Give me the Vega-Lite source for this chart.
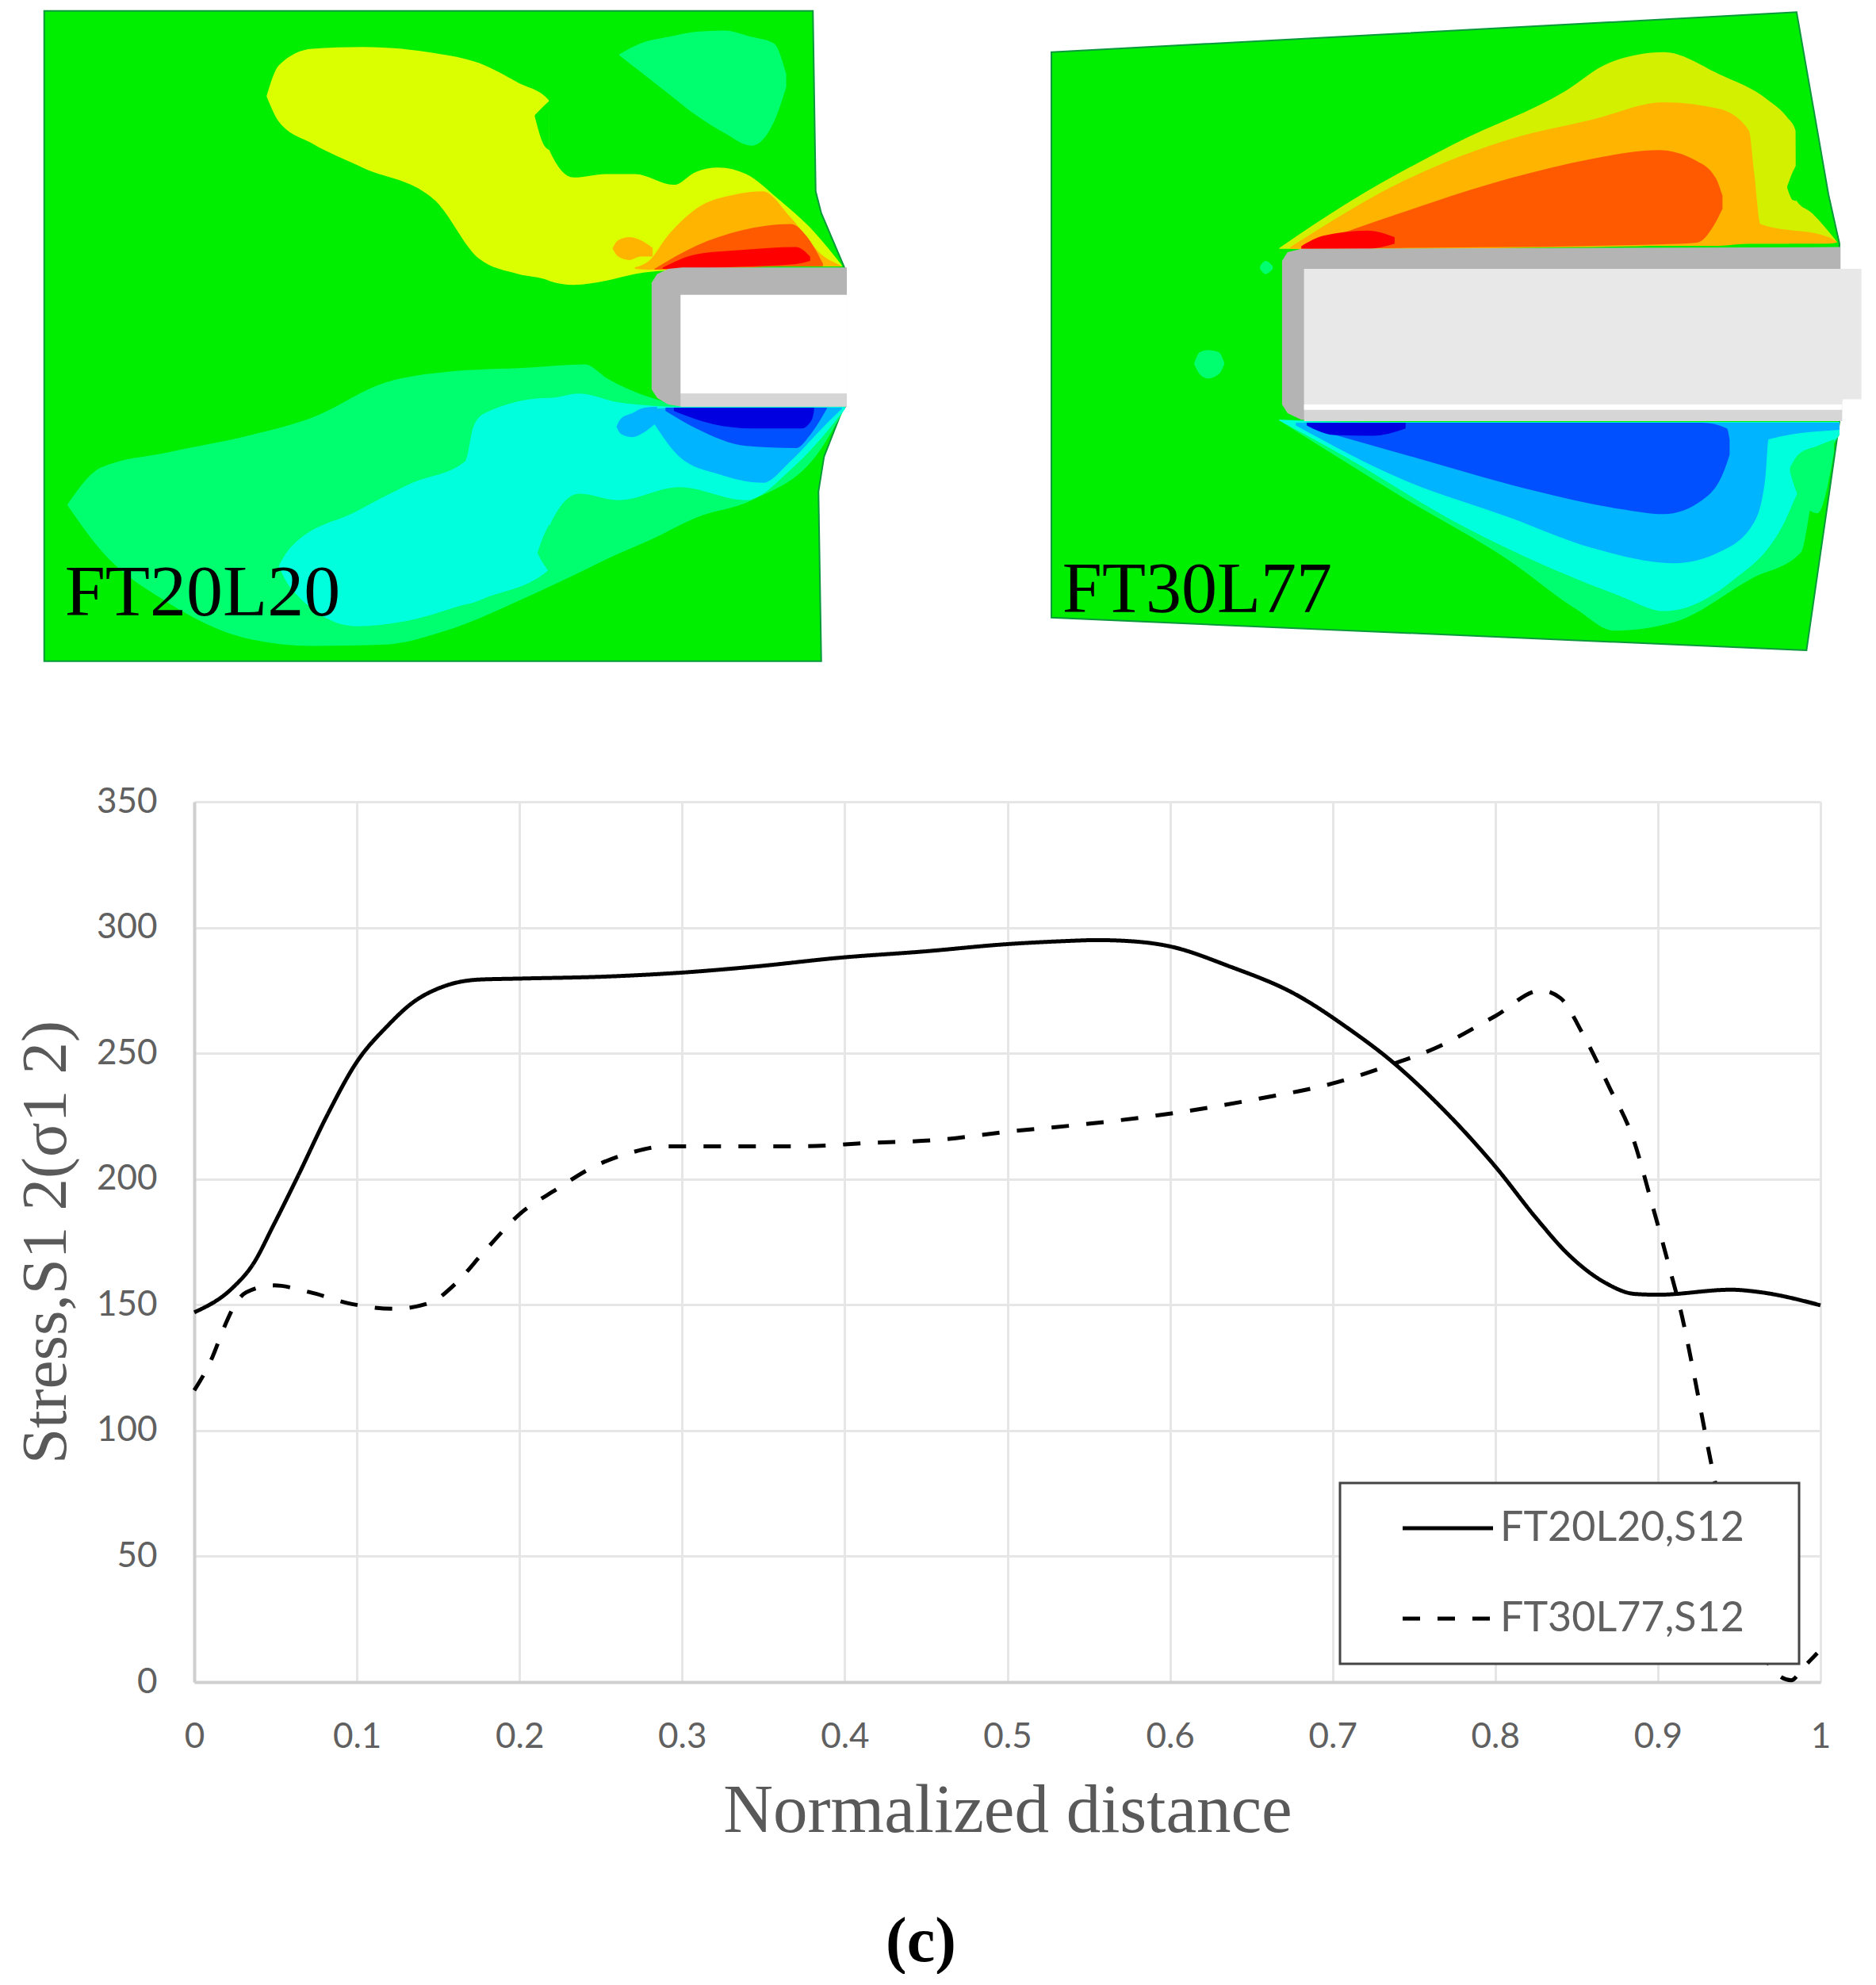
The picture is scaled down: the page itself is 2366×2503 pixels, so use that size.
{"$schema":"https://vega.github.io/schema/vega-lite/v6.json","padding":{"left":17,"top":0,"right":0,"bottom":0},"background":"white","spacing":129,"resolve":{"legend":{"strokeDash":"independent"}},"config":{"view":{"stroke":null},"legend":{"strokeWidth":3},"axis":{"ticks":false,"labelFlush":false,"gridColor":"#e6e6e6","gridWidth":3,"domainColor":"#cfcfcf","domainWidth":4,"labelColor":"#606060","labelFont":"Lato","labelFontSize":44,"titleColor":"#595959","titleFont":"Liberation Serif","titleFontWeight":"normal"}},
"datasets":{
"leftBase":[{"v":25,"u":78,"u2":1460},{"v":440,"u":78,"u2":1465},{"v":490,"u":78,"u2":1475},{"v":610,"u":78,"u2":1515},{"v":620,"u":78,"u2":1518},{"v":935,"u":78,"u2":1518},{"v":945,"u":78,"u2":1512},{"v":1050,"u":78,"u2":1480},{"v":1130,"u":78,"u2":1470},{"v":1520,"u":78,"u2":1475}],
"leftBands":[
{"region":"a","level":"mint","u":1112,"v":125,"w":127},{"region":"a","level":"mint","u":1150,"v":100,"w":165},{"region":"a","level":"mint","u":1200,"v":85,"w":215},{"region":"a","level":"mint","u":1250,"v":73,"w":265},{"region":"a","level":"mint","u":1300,"v":70,"w":305},{"region":"a","level":"mint","u":1350,"v":85,"w":335},{"region":"a","level":"mint","u":1390,"v":100,"w":280},{"region":"a","level":"mint","u":1412,"v":170,"w":200},
{"region":"b","level":"pos1","u":478,"v":220,"w":222},{"region":"b","level":"pos1","u":500,"v":150,"w":280},{"region":"b","level":"pos1","u":560,"v":112,"w":330},{"region":"b","level":"pos1","u":650,"v":108,"w":385},{"region":"b","level":"pos1","u":780,"v":122,"w":460},{"region":"b","level":"pos1","u":860,"v":145,"w":595},{"region":"b","level":"pos1","u":930,"v":190,"w":630},{"region":"b","level":"pos1","u":985,"v":230,"w":645},{"region":"b","level":"pos1","u":986,"v":345,"w":646},{"region":"b","level":"pos1","u":1030,"v":408,"w":655},{"region":"b","level":"pos1","u":1090,"v":400,"w":645},{"region":"b","level":"pos1","u":1140,"v":400,"w":630},{"region":"b","level":"pos1","u":1210,"v":425,"w":620},{"region":"b","level":"pos1","u":1250,"v":395,"w":615},{"region":"b","level":"pos1","u":1290,"v":385,"w":612},{"region":"b","level":"pos1","u":1340,"v":400,"w":612},{"region":"b","level":"pos1","u":1400,"v":460,"w":612},{"region":"b","level":"pos1","u":1460,"v":530,"w":612},{"region":"b","level":"pos1","u":1512,"v":610,"w":612},
{"region":"c","level":"neutral","u":960,"v":265,"w":268},{"region":"c","level":"neutral","u":975,"v":245,"w":330},{"region":"c","level":"neutral","u":986,"v":232,"w":345},
{"region":"d","level":"pos2","u":1100,"v":570,"w":572},{"region":"d","level":"pos2","u":1110,"v":552,"w":590},{"region":"d","level":"pos2","u":1130,"v":545,"w":598},{"region":"d","level":"pos2","u":1150,"v":552,"w":590},{"region":"d","level":"pos2","u":1172,"v":570,"w":590},
{"region":"e","level":"pos2","u":1140,"v":615,"w":618},{"region":"e","level":"pos2","u":1165,"v":600,"w":620},{"region":"e","level":"pos2","u":1200,"v":540,"w":620},{"region":"e","level":"pos2","u":1250,"v":480,"w":618},{"region":"e","level":"pos2","u":1320,"v":447,"w":615},{"region":"e","level":"pos2","u":1370,"v":440,"w":612},{"region":"e","level":"pos2","u":1420,"v":500,"w":612},{"region":"e","level":"pos2","u":1480,"v":590,"w":612},{"region":"e","level":"pos2","u":1510,"v":610,"w":612},
{"region":"f","level":"pos3","u":1175,"v":618,"w":620},{"region":"f","level":"pos3","u":1250,"v":565,"w":618},{"region":"f","level":"pos3","u":1330,"v":530,"w":615},{"region":"f","level":"pos3","u":1420,"v":515,"w":612},{"region":"f","level":"pos3","u":1450,"v":545,"w":612},{"region":"f","level":"pos3","u":1478,"v":606,"w":612},
{"region":"g","level":"pos4","u":1190,"v":615,"w":618},{"region":"g","level":"pos4","u":1250,"v":585,"w":617},{"region":"g","level":"pos4","u":1330,"v":575,"w":613},{"region":"g","level":"pos4","u":1430,"v":568,"w":607},{"region":"g","level":"pos4","u":1455,"v":590,"w":600},
{"region":"h","level":"mint","u":120,"v":1160,"w":1162},{"region":"h","level":"mint","u":180,"v":1075,"w":1265},{"region":"h","level":"mint","u":300,"v":1040,"w":1385},{"region":"h","level":"mint","u":450,"v":1000,"w":1470},{"region":"h","level":"mint","u":560,"v":960,"w":1485},{"region":"h","level":"mint","u":690,"v":880,"w":1482},{"region":"h","level":"mint","u":800,"v":855,"w":1450},{"region":"h","level":"mint","u":950,"v":845,"w":1370},{"region":"h","level":"mint","u":1050,"v":838,"w":1310},{"region":"h","level":"mint","u":1090,"v":870,"w":1285},{"region":"h","level":"mint","u":1170,"v":915,"w":1240},{"region":"h","level":"mint","u":1250,"v":935,"w":1190},{"region":"h","level":"mint","u":1350,"v":935,"w":1150},{"region":"h","level":"mint","u":1470,"v":935,"w":1040},{"region":"h","level":"mint","u":1518,"v":935,"w":937},
{"region":"i","level":"cyan","u":500,"v":1300,"w":1302},{"region":"i","level":"cyan","u":520,"v":1260,"w":1350},{"region":"i","level":"cyan","u":640,"v":1175,"w":1440},{"region":"i","level":"cyan","u":740,"v":1110,"w":1425},{"region":"i","level":"cyan","u":835,"v":1060,"w":1390},{"region":"i","level":"cyan","u":850,"v":980,"w":1385},{"region":"i","level":"cyan","u":870,"v":950,"w":1375},{"region":"i","level":"cyan","u":985,"v":915,"w":1310},{"region":"i","level":"cyan","u":986,"v":915,"w":1210},{"region":"i","level":"cyan","u":1040,"v":905,"w":1135},{"region":"i","level":"cyan","u":1110,"v":925,"w":1150},{"region":"i","level":"cyan","u":1220,"v":935,"w":1120},{"region":"i","level":"cyan","u":1340,"v":935,"w":1150},{"region":"i","level":"cyan","u":1420,"v":935,"w":1080},{"region":"i","level":"cyan","u":1480,"v":935,"w":1000},{"region":"i","level":"cyan","u":1518,"v":935,"w":940},
{"region":"j","level":"mint","u":965,"v":1270,"w":1272},{"region":"j","level":"mint","u":975,"v":1235,"w":1295},{"region":"j","level":"mint","u":986,"v":1205,"w":1315},
{"region":"k","level":"neg2","u":1107,"v":980,"w":982},{"region":"k","level":"neg2","u":1115,"v":962,"w":998},{"region":"k","level":"neg2","u":1135,"v":950,"w":1005},{"region":"k","level":"neg2","u":1155,"v":938,"w":995},{"region":"k","level":"neg2","u":1180,"v":935,"w":970},
{"region":"l","level":"neg2","u":1175,"v":940,"w":975},{"region":"l","level":"neg2","u":1220,"v":937,"w":1050},{"region":"l","level":"neg2","u":1290,"v":937,"w":1090},{"region":"l","level":"neg2","u":1370,"v":937,"w":1110},{"region":"l","level":"neg2","u":1420,"v":937,"w":1060},{"region":"l","level":"neg2","u":1480,"v":937,"w":980},{"region":"l","level":"neg2","u":1512,"v":937,"w":940},
{"region":"m","level":"neg3","u":1195,"v":937,"w":945},{"region":"m","level":"neg3","u":1250,"v":937,"w":985},{"region":"m","level":"neg3","u":1340,"v":937,"w":1025},{"region":"m","level":"neg3","u":1430,"v":937,"w":1030},{"region":"m","level":"neg3","u":1455,"v":937,"w":1000},{"region":"m","level":"neg3","u":1485,"v":937,"w":940},
{"region":"n","level":"neg4","u":1210,"v":937,"w":945},{"region":"n","level":"neg4","u":1280,"v":937,"w":975},{"region":"n","level":"neg4","u":1350,"v":937,"w":985},{"region":"n","level":"neg4","u":1440,"v":937,"w":985},{"region":"n","level":"neg4","u":1458,"v":937,"w":965},{"region":"n","level":"neg4","u":1462,"v":937,"w":945}],
"leftSolid":[
{"region":"a","level":"solid_dark","u":1170,"v":650,"w":895},{"region":"a","level":"solid_dark","u":1180,"v":630,"w":915},{"region":"a","level":"solid_dark","u":1200,"v":618,"w":930},{"region":"a","level":"solid_dark","u":1225,"v":615,"w":935},{"region":"a","level":"solid_dark","u":1521,"v":615,"w":935},
{"region":"b","level":"solid_mid","u":1222,"v":905,"w":935},{"region":"b","level":"solid_mid","u":1521,"v":905,"w":935},
{"region":"c","level":"white","u":1222,"v":678,"w":905},{"region":"c","level":"white","u":1521,"v":678,"w":905}],
"rightBase":[{"u":65,"v":120,"w":1420},{"u":1422,"v":28,"w":1494},{"u":1440,"v":158,"w":1495},{"u":1460,"v":302,"w":1320},{"u":1480,"v":447,"w":1145},{"u":1500,"v":560,"w":970}],
"rightBands":[
{"region":"a","level":"pos1r","u":480,"v":570,"w":572},{"region":"a","level":"pos1r","u":600,"v":470,"w":572},{"region":"a","level":"pos1r","u":800,"v":330,"w":570},{"region":"a","level":"pos1r","u":1000,"v":210,"w":565},{"region":"a","level":"pos1r","u":1080,"v":145,"w":565},{"region":"a","level":"pos1r","u":1180,"v":120,"w":565},{"region":"a","level":"pos1r","u":1280,"v":170,"w":560},{"region":"a","level":"pos1r","u":1370,"v":230,"w":560},{"region":"a","level":"pos1r","u":1405,"v":270,"w":560},{"region":"a","level":"pos1r","u":1420,"v":300,"w":558},{"region":"a","level":"pos1r","u":1421,"v":460,"w":558},{"region":"a","level":"pos1r","u":1450,"v":490,"w":556},{"region":"a","level":"pos1r","u":1495,"v":555,"w":558},
{"region":"b","level":"neutral","u":1405,"v":428,"w":432},{"region":"b","level":"neutral","u":1415,"v":395,"w":460},{"region":"b","level":"neutral","u":1421,"v":380,"w":462},
{"region":"c","level":"pos2","u":500,"v":568,"w":572},{"region":"c","level":"pos2","u":700,"v":420,"w":572},{"region":"c","level":"pos2","u":900,"v":320,"w":570},{"region":"c","level":"pos2","u":1050,"v":275,"w":568},{"region":"c","level":"pos2","u":1180,"v":235,"w":565},{"region":"c","level":"pos2","u":1280,"v":250,"w":565},{"region":"c","level":"pos2","u":1335,"v":300,"w":560},{"region":"c","level":"pos2","u":1345,"v":400,"w":560},{"region":"c","level":"pos2","u":1356,"v":515,"w":560},{"region":"c","level":"pos2","u":1480,"v":545,"w":560},{"region":"c","level":"pos2","u":1495,"v":555,"w":558},
{"region":"d","level":"pos3","u":530,"v":565,"w":572},{"region":"d","level":"pos3","u":700,"v":490,"w":570},{"region":"d","level":"pos3","u":900,"v":410,"w":568},{"region":"d","level":"pos3","u":1050,"v":365,"w":565},{"region":"d","level":"pos3","u":1170,"v":345,"w":562},{"region":"d","level":"pos3","u":1240,"v":370,"w":558},{"region":"d","level":"pos3","u":1275,"v":410,"w":510},{"region":"d","level":"pos3","u":1287,"v":450,"w":480},
{"region":"e","level":"pos4","u":520,"v":566,"w":572},{"region":"e","level":"pos4","u":560,"v":542,"w":572},{"region":"e","level":"pos4","u":640,"v":530,"w":572},{"region":"e","level":"pos4","u":690,"v":545,"w":560},
{"region":"f","level":"mint","u":480,"v":965,"w":967},{"region":"f","level":"mint","u":700,"v":970,"w":1140},{"region":"f","level":"mint","u":900,"v":970,"w":1290},{"region":"f","level":"mint","u":1020,"v":970,"w":1400},{"region":"f","level":"mint","u":1090,"v":970,"w":1450},{"region":"f","level":"mint","u":1200,"v":970,"w":1430},{"region":"f","level":"mint","u":1340,"v":970,"w":1330},{"region":"f","level":"mint","u":1430,"v":970,"w":1270},{"region":"f","level":"mint","u":1450,"v":970,"w":1150},{"region":"f","level":"mint","u":1500,"v":970,"w":1000},
{"region":"g","level":"cyan","u":480,"v":965,"w":967},{"region":"g","level":"cyan","u":600,"v":970,"w":1050},{"region":"g","level":"cyan","u":800,"v":970,"w":1200},{"region":"g","level":"cyan","u":1000,"v":970,"w":1320},{"region":"g","level":"cyan","u":1100,"v":970,"w":1370},{"region":"g","level":"cyan","u":1180,"v":970,"w":1405},{"region":"g","level":"cyan","u":1300,"v":970,"w":1340},{"region":"g","level":"cyan","u":1400,"v":970,"w":1200},{"region":"g","level":"cyan","u":1425,"v":970,"w":1130},{"region":"g","level":"cyan","u":1500,"v":970,"w":1000},
{"region":"h","level":"mint","u":1410,"v":1075,"w":1085},{"region":"h","level":"mint","u":1425,"v":1045,"w":1140},{"region":"h","level":"mint","u":1460,"v":1025,"w":1180},{"region":"h","level":"mint","u":1490,"v":1010,"w":1040},
{"region":"i","level":"neg2","u":510,"v":972,"w":978},{"region":"i","level":"neg2","u":700,"v":972,"w":1100},{"region":"i","level":"neg2","u":900,"v":972,"w":1190},{"region":"i","level":"neg2","u":1050,"v":972,"w":1260},{"region":"i","level":"neg2","u":1200,"v":972,"w":1295},{"region":"i","level":"neg2","u":1280,"v":972,"w":1270},{"region":"i","level":"neg2","u":1345,"v":972,"w":1200},{"region":"i","level":"neg2","u":1365,"v":972,"w":1100},{"region":"i","level":"neg2","u":1371,"v":972,"w":1010},{"region":"i","level":"neg2","u":1500,"v":972,"w":988},
{"region":"j","level":"neg3","u":540,"v":972,"w":985},{"region":"j","level":"neg3","u":750,"v":972,"w":1060},{"region":"j","level":"neg3","u":950,"v":972,"w":1130},{"region":"j","level":"neg3","u":1100,"v":972,"w":1170},{"region":"j","level":"neg3","u":1180,"v":972,"w":1182},{"region":"j","level":"neg3","u":1250,"v":972,"w":1150},{"region":"j","level":"neg3","u":1295,"v":985,"w":1065},{"region":"j","level":"neg3","u":1300,"v":1010,"w":1045},
{"region":"k","level":"neg4","u":530,"v":972,"w":978},{"region":"k","level":"neg4","u":580,"v":972,"w":1000},{"region":"k","level":"neg4","u":650,"v":972,"w":1002},{"region":"k","level":"neg4","u":710,"v":972,"w":985},
{"region":"l","level":"mint","u":325,"v":835,"w":837},{"region":"l","level":"mint","u":335,"v":810,"w":860},{"region":"l","level":"mint","u":350,"v":805,"w":870},{"region":"l","level":"mint","u":370,"v":810,"w":860},{"region":"l","level":"mint","u":380,"v":835,"w":837},
{"region":"m","level":"mint","u":445,"v":612,"w":618},{"region":"m","level":"mint","u":455,"v":600,"w":630},{"region":"m","level":"mint","u":468,"v":612,"w":618}],
"rightSolid":[
{"region":"a","level":"solid_dark","u":485,"v":600,"w":930},{"region":"a","level":"solid_dark","u":495,"v":580,"w":950},{"region":"a","level":"solid_dark","u":520,"v":572,"w":965},{"region":"a","level":"solid_dark","u":1502,"v":568,"w":968},
{"region":"b","level":"solid_mid","u":525,"v":930,"w":968},{"region":"b","level":"solid_mid","u":1505,"v":930,"w":968},
{"region":"c","level":"white","u":525,"v":930,"w":942},{"region":"c","level":"white","u":1505,"v":930,"w":942},
{"region":"d","level":"solid_light","u":525,"v":618,"w":930},{"region":"d","level":"solid_light","u":1505,"v":618,"w":930},{"region":"d","level":"solid_light","u":1506,"v":618,"w":918},{"region":"d","level":"solid_light","u":1540,"v":618,"w":918}],
"leftLabel":[{"u":115,"v":1415,"label":"FT20L20"}],
"rightLabel":[{"u":85,"v":1408,"label":"FT30L77"}],
"curves":[
{"series":"FT20L20,S12","d":0,"s":147},{"series":"FT20L20,S12","d":0.023,"s":156.4},{"series":"FT20L20,S12","d":0.036,"s":166},{"series":"FT20L20,S12","d":0.049,"s":182},{"series":"FT20L20,S12","d":0.064,"s":201.5},{"series":"FT20L20,S12","d":0.082,"s":225.7},{"series":"FT20L20,S12","d":0.1,"s":246.6},{"series":"FT20L20,S12","d":0.119,"s":261},{"series":"FT20L20,S12","d":0.134,"s":270},{"series":"FT20L20,S12","d":0.153,"s":276.5},{"series":"FT20L20,S12","d":0.175,"s":279.3},{"series":"FT20L20,S12","d":0.2,"s":279.7},{"series":"FT20L20,S12","d":0.253,"s":280.5},{"series":"FT20L20,S12","d":0.298,"s":282},{"series":"FT20L20,S12","d":0.345,"s":284.5},{"series":"FT20L20,S12","d":0.397,"s":288},{"series":"FT20L20,S12","d":0.449,"s":290.5},{"series":"FT20L20,S12","d":0.5,"s":293.4},{"series":"FT20L20,S12","d":0.535,"s":294.6},{"series":"FT20L20,S12","d":0.555,"s":295},{"series":"FT20L20,S12","d":0.575,"s":294.6},{"series":"FT20L20,S12","d":0.6,"s":292.5},{"series":"FT20L20,S12","d":0.636,"s":284.7},{"series":"FT20L20,S12","d":0.677,"s":273.5},{"series":"FT20L20,S12","d":0.71,"s":259.7},{"series":"FT20L20,S12","d":0.736,"s":247},{"series":"FT20L20,S12","d":0.766,"s":229},{"series":"FT20L20,S12","d":0.8,"s":205},{"series":"FT20L20,S12","d":0.826,"s":183.8},{"series":"FT20L20,S12","d":0.845,"s":170},{"series":"FT20L20,S12","d":0.867,"s":159},{"series":"FT20L20,S12","d":0.886,"s":154.3},{"series":"FT20L20,S12","d":0.9,"s":154},{"series":"FT20L20,S12","d":0.945,"s":156},{"series":"FT20L20,S12","d":0.963,"s":155},{"series":"FT20L20,S12","d":1,"s":149.8},
{"series":"FT30L77,S12","d":0,"s":116},{"series":"FT30L77,S12","d":0.01,"s":127.5},{"series":"FT30L77,S12","d":0.019,"s":142},{"series":"FT30L77,S12","d":0.025,"s":150},{"series":"FT30L77,S12","d":0.032,"s":155},{"series":"FT30L77,S12","d":0.049,"s":157.7},{"series":"FT30L77,S12","d":0.071,"s":155},{"series":"FT30L77,S12","d":0.097,"s":150.3},{"series":"FT30L77,S12","d":0.123,"s":148.4},{"series":"FT30L77,S12","d":0.145,"s":150.8},{"series":"FT30L77,S12","d":0.16,"s":158},{"series":"FT30L77,S12","d":0.179,"s":171.7},{"series":"FT30L77,S12","d":0.2,"s":186},{"series":"FT30L77,S12","d":0.223,"s":196},{"series":"FT30L77,S12","d":0.245,"s":204.7},{"series":"FT30L77,S12","d":0.268,"s":210.4},{"series":"FT30L77,S12","d":0.29,"s":213},{"series":"FT30L77,S12","d":0.327,"s":213},{"series":"FT30L77,S12","d":0.372,"s":213},{"series":"FT30L77,S12","d":0.416,"s":214.4},{"series":"FT30L77,S12","d":0.456,"s":215.5},{"series":"FT30L77,S12","d":0.5,"s":218.8},{"series":"FT30L77,S12","d":0.546,"s":221.7},{"series":"FT30L77,S12","d":0.6,"s":226},{"series":"FT30L77,S12","d":0.655,"s":232},{"series":"FT30L77,S12","d":0.7,"s":238},{"series":"FT30L77,S12","d":0.736,"s":245.5},{"series":"FT30L77,S12","d":0.763,"s":252},{"series":"FT30L77,S12","d":0.8,"s":264.8},{"series":"FT30L77,S12","d":0.828,"s":275},{"series":"FT30L77,S12","d":0.84,"s":272},{"series":"FT30L77,S12","d":0.854,"s":257.5},{"series":"FT30L77,S12","d":0.87,"s":236.7},{"series":"FT30L77,S12","d":0.885,"s":215.7},{"series":"FT30L77,S12","d":0.896,"s":191},{"series":"FT30L77,S12","d":0.907,"s":165},{"series":"FT30L77,S12","d":0.915,"s":145},{"series":"FT30L77,S12","d":0.922,"s":123},{"series":"FT30L77,S12","d":0.93,"s":96},{"series":"FT30L77,S12","d":0.935,"s":80},{"series":"FT30L77,S12","d":0.973,"s":3.3},{"series":"FT30L77,S12","d":0.982,"s":0.7},{"series":"FT30L77,S12","d":0.989,"s":5.5},{"series":"FT30L77,S12","d":0.998,"s":11.5}]
},
"vconcat":[
{"hconcat":[
{"width":856,"height":860,"layer":[
{"data":{"name":"leftBase"},"mark":{"type":"area","interpolate":"linear","color":"#00ee00","stroke":"#0a9a3c","strokeWidth":2},"encoding":{"y":{"field":"v","type":"quantitative","axis":null,"scale":{"domain":[0,1568],"reverse":true,"nice":false,"zero":false}},"x":{"field":"u","type":"quantitative","axis":null,"scale":{"domain":[347.8,1568],"nice":false,"zero":false}},"x2":{"field":"u2"}}},
{"data":{"name":"leftBands"},"mark":{"type":"area","interpolate":"monotone"},"encoding":{"x":{"field":"u","type":"quantitative","axis":null,"scale":{"domain":[347.8,1568],"nice":false,"zero":false}},"y":{"field":"v","type":"quantitative","axis":null,"scale":{"domain":[0,1568],"reverse":true,"nice":false,"zero":false}},"y2":{"field":"w"},"detail":{"field":"region"},"color":{"field":"level","type":"nominal","legend":null,"scale":{"domain":["neutral","mint","cyan","neg2","neg3","neg4","pos1","pos1r","pos2","pos3","pos4","solid_dark","solid_mid","solid_light","white"],"range":["#00ee00","#00ff6e","#00ffdc","#00b4ff","#0050ff","#0000e0","#dcff00","#d2f000","#ffb400","#ff5a00","#ff0000","#b4b4b4","#d6d6d6","#e8e8e8","#ffffff"]}}}},
{"data":{"name":"leftSolid"},"mark":{"type":"area","interpolate":"linear"},"encoding":{"x":{"field":"u","type":"quantitative","axis":null,"scale":{"domain":[347.8,1568],"nice":false,"zero":false}},"y":{"field":"v","type":"quantitative","axis":null,"scale":{"domain":[0,1568],"reverse":true,"nice":false,"zero":false}},"y2":{"field":"w"},"detail":{"field":"region"},"color":{"field":"level","type":"nominal","legend":null}}},
{"data":{"name":"leftLabel"},"mark":{"type":"text","align":"left","baseline":"alphabetic","font":"Liberation Serif","fontSize":92,"color":"#000000"},"encoding":{"x":{"field":"u","type":"quantitative","axis":null,"scale":{"domain":[347.8,1568],"nice":false,"zero":false}},"y":{"field":"v","type":"quantitative","axis":null,"scale":{"domain":[0,1568],"reverse":true,"nice":false,"zero":false}},"text":{"field":"label"}}}
]},
{"width":1086,"height":860,"layer":[
{"data":{"name":"rightBase"},"mark":{"type":"area","interpolate":"linear","color":"#00ee00","stroke":"#0a9a3c","strokeWidth":2},"encoding":{"x":{"field":"u","type":"quantitative","axis":null,"scale":{"domain":[0,1568],"nice":false,"zero":false}},"y":{"field":"v","type":"quantitative","axis":null,"scale":{"domain":[0,1568],"reverse":true,"nice":false,"zero":false}},"y2":{"field":"w"}}},
{"data":{"name":"rightBands"},"mark":{"type":"area","interpolate":"monotone"},"encoding":{"x":{"field":"u","type":"quantitative","axis":null,"scale":{"domain":[0,1568],"nice":false,"zero":false}},"y":{"field":"v","type":"quantitative","axis":null,"scale":{"domain":[0,1568],"reverse":true,"nice":false,"zero":false}},"y2":{"field":"w"},"detail":{"field":"region"},"color":{"field":"level","type":"nominal","legend":null}}},
{"data":{"name":"rightSolid"},"mark":{"type":"area","interpolate":"linear"},"encoding":{"x":{"field":"u","type":"quantitative","axis":null,"scale":{"domain":[0,1568],"nice":false,"zero":false}},"y":{"field":"v","type":"quantitative","axis":null,"scale":{"domain":[0,1568],"reverse":true,"nice":false,"zero":false}},"y2":{"field":"w"},"detail":{"field":"region"},"color":{"field":"level","type":"nominal","legend":null}}},
{"data":{"name":"rightLabel"},"mark":{"type":"text","align":"left","baseline":"alphabetic","font":"Liberation Serif","fontSize":90,"color":"#000000"},"encoding":{"x":{"field":"u","type":"quantitative","axis":null,"scale":{"domain":[0,1568],"nice":false,"zero":false}},"y":{"field":"v","type":"quantitative","axis":null,"scale":{"domain":[0,1568],"reverse":true,"nice":false,"zero":false}},"text":{"field":"label"}}}
]}
],"spacing":180,"resolve":{"scale":{"x":"independent","y":"independent"}}},
{"width":2051,"height":1110,"title":{"text":"(c)","orient":"bottom","font":"Liberation Serif","fontWeight":"bold","fontSize":80,"color":"#000000","anchor":"middle","dx":-109,"offset":84},
"data":{"name":"curves"},"mark":{"type":"line","interpolate":"monotone","color":"#000000","strokeWidth":5},
"encoding":{
"x":{"field":"d","type":"quantitative","scale":{"domain":[0,1],"nice":false},"axis":{"values":[0,0.1,0.2,0.3,0.4,0.5,0.6,0.7,0.8,0.9,1],"format":"~g","title":"Normalized distance","titleFontSize":87,"titlePadding":28,"labelPadding":47,"grid":true}},
"y":{"field":"s","type":"quantitative","scale":{"domain":[0,350],"nice":false},"axis":{"values":[0,50,100,150,200,250,300,350],"title":"Stress,S1 2(σ1 2)","titleFontSize":81,"titlePadding":22,"labelPadding":47,"grid":true}},
"strokeDash":{"field":"series","type":"nominal","scale":{"domain":["FT20L20,S12","FT30L77,S12"],"range":[[1,0],[22,22]]},"legend":{"orient":"none","legendX":1445,"legendY":859,"title":" ","titleOrient":"right","titlePadding":38,"titleFontSize":10,"fillColor":"#ffffff","strokeColor":"#444444","padding":31,"clipHeight":52,"symbolType":"stroke","symbolSize":13000,"symbolStrokeWidth":5,"symbolStrokeColor":"#000000","symbolOffset":45,"labelFont":"Lato","labelFontSize":52,"labelColor":"#606060","labelOffset":6,"labelLimit":600,"rowPadding":62}}
}}
]}
